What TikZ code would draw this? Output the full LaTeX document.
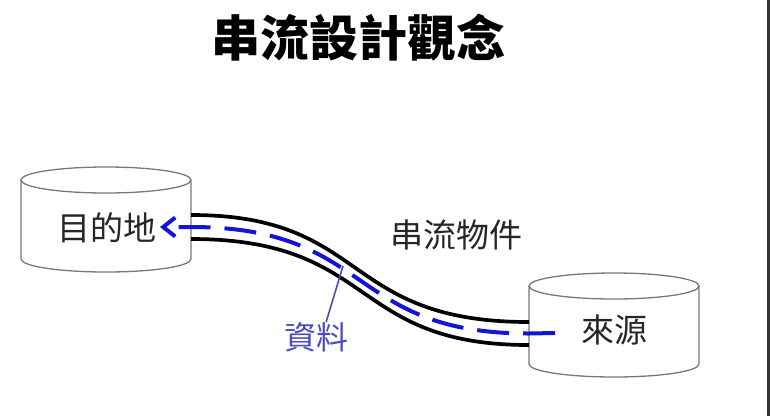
\documentclass[tikz,border=0pt]{standalone}
\usepackage{fontspec}
\newfontfamily\cjk{Noto Sans CJK TC}
\usetikzlibrary{arrows.meta}
\definecolor{cylgray}{RGB}{120,120,120}
\definecolor{flowblue}{RGB}{20,20,215}
\definecolor{lblblue}{RGB}{75,75,190}
\definecolor{edgegray}{RGB}{50,50,50}
\begin{document}
\begin{tikzpicture}[x=1pt,y=-1pt,
  cyl/.style={draw=cylgray, line width=1.3pt},
  pipe/.style={line width=3.7pt, draw=black},
  flow/.style={line width=4pt, draw=flowblue, dash pattern=on 32pt off 14pt,
    -{Straight Barb[length=12pt,width=19pt]}},
  lbl/.style={font=\cjk\fontsize{33}{40}\selectfont, inner sep=0pt, text=black!85},
  ptr/.style={draw=lblblue, line width=1.6pt}
]
\useasboundingbox (0,0) rectangle (770,416);
\fill[white] (0,0) rectangle (770,416);
\fill[edgegray] (766.5,0) rectangle (769.5,416);

% cylinders
\draw[cyl] (21,180) -- (21,259) arc[start angle=180,end angle=0,x radius=85,y radius=13] -- (191,180);
\draw[cyl] (106,180) ellipse [x radius=85, y radius=13];
\draw[cyl] (529,286) -- (529,364) arc[start angle=180,end angle=0,x radius=85,y radius=13] -- (699,286);
\draw[cyl] (614,286) ellipse [x radius=85, y radius=13];

% pipe
\coordinate (dstUp) at (191,215);
\coordinate (dstLo) at (191,239);
\coordinate (srcUp) at (529,322);
\coordinate (srcLo) at (529,345);
\draw[pipe] (dstUp) .. controls (370,215) and (340,322) .. (srcUp);
\draw[pipe] (dstLo) .. controls (378,239) and (348,345) .. (srcLo);

% text
\node[font=\cjk\bfseries\fontsize{49}{58}\selectfont, inner sep=0pt] (title) at (358.5,38) {串流設計觀念};
\node[lbl] (dst) at (106.5,228) {目的地};
\node[lbl] (src) at (614.5,330) {來源};
\node[lbl] (obj) at (456,235) {串流物件};
\node[lbl, text=lblblue, font=\cjk\fontsize{32}{38}\selectfont] (data) at (316,337) {資料};

% data flow
\coordinate (flowStart) at (555,333);
\coordinate (flowIn) at (529,333.5);
\coordinate (flowOut) at (191,227);
\coordinate (flowTip) at (160,227);
\draw[flow] (flowStart) -- (flowIn) .. controls (346,333.5) and (374,227) .. (flowOut) -- (flowTip);

% pointer
\coordinate (hit) at (343,266);
\draw[ptr] (data.56) -- (hit);
\end{tikzpicture}
\end{document}
